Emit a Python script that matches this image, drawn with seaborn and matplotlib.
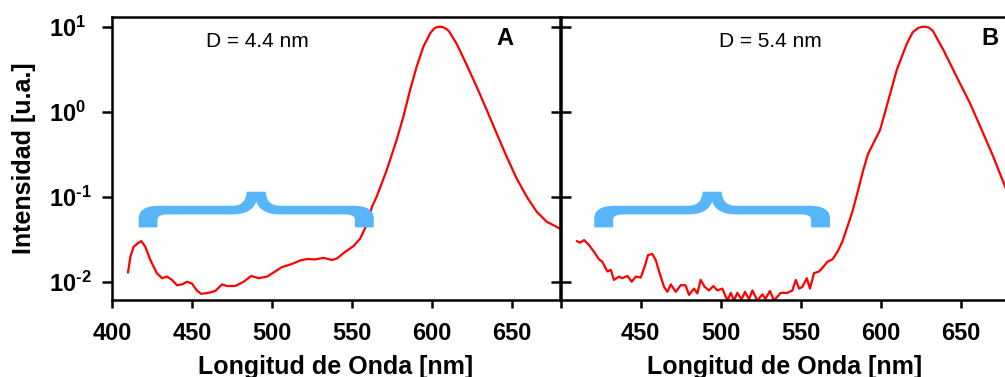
import numpy as np
import matplotlib
matplotlib.use("Agg")
import matplotlib.pyplot as plt
from matplotlib.ticker import NullLocator
import seaborn as sns
import pandas as pd

# spectrum A (D = 4.4 nm)
wl_a = [410, 411.5, 413.5, 416, 418.3, 420.8, 424, 428, 431.3, 434.4, 437.5,
        440.6, 443.8, 446.9, 450, 453, 455.8, 460.4, 464.6, 468.8, 471.9,
        477, 482.3, 487, 491.7, 496.9, 502, 506, 512.5, 517.7, 521.9, 527,
        532.3, 537.5, 540.6, 545.8, 551, 555.2, 559.2, 562.5, 565.4, 571.7,
        577.9, 582.1, 586.3, 590.4, 594.6, 598.75, 601, 603, 605, 607, 608.8,
        610.5, 615.4, 621.7, 627.9, 634.2, 640.4, 646.7, 652.9, 659.2, 665.4,
        671.7, 679.6, 682]
int_a = [0.0128, 0.0197, 0.0258, 0.0282, 0.0301, 0.0258, 0.0180, 0.0126,
         0.0110, 0.0115, 0.0105, 0.0091, 0.0093, 0.0100, 0.0095, 0.0079,
         0.0072, 0.0074, 0.0078, 0.0093, 0.0089, 0.0089, 0.0100, 0.0117,
         0.0110, 0.0115, 0.0132, 0.0148, 0.0162, 0.0178, 0.0185, 0.0183,
         0.0191, 0.0180, 0.0188, 0.0225, 0.0263, 0.0324, 0.0470, 0.0762,
         0.100, 0.206, 0.465, 0.873, 1.80, 3.39, 5.82, 8.32, 9.40, 9.90,
         10.0, 9.85, 9.45, 8.90, 6.31, 3.55, 1.97, 1.05, 0.556, 0.295, 0.164,
         0.100, 0.0667, 0.0508, 0.0425, 0.0400]

# spectrum B (D = 5.4 nm)
wl_b = [410, 412, 414.6, 417.7, 420.8, 424, 426, 429.2, 431.3, 433.3, 436.5,
        438.5, 441.7, 444.4, 446.9, 450, 452.5, 454.6, 457.3, 459.4, 461.5,
        464.6, 466.7, 468.8, 471.9, 475, 478, 480.2, 483.3, 485.4, 487.5,
        490, 492.7, 495.4, 497.9, 501, 504.2, 506.3, 508.3, 510.4, 513,
        515.2, 517.7, 519.8, 522.9, 526, 528, 530.8, 533.3, 537.5, 541.7,
        544.8, 546.9, 549, 551, 553.8, 555.8, 558.3, 561.5, 563.5, 566.7,
        569.8, 573, 576, 579.2, 582.3, 585.4, 589.1, 592, 595.4, 599.6,
        603.7, 610, 616.3, 620, 623.5, 626, 628, 630, 632.5, 639.1, 647.5,
        655.8, 664.1, 670.4, 677.7, 682]
int_b = [0.0301, 0.0288, 0.0309, 0.0270, 0.0225, 0.0183, 0.0172, 0.0132,
         0.0138, 0.0105, 0.0115, 0.0110, 0.0117, 0.0100, 0.0115, 0.0112,
         0.0151, 0.0206, 0.0212, 0.0180, 0.0132, 0.0087, 0.0076, 0.0093,
         0.0076, 0.0091, 0.0091, 0.0070, 0.0083, 0.0073, 0.0105, 0.0087,
         0.0079, 0.0089, 0.0079, 0.0083, 0.0060, 0.0074, 0.0060, 0.0074,
         0.0062, 0.0076, 0.0062, 0.0079, 0.0060, 0.0071, 0.0063, 0.0078,
         0.0060, 0.0074, 0.0074, 0.0079, 0.0105, 0.0083, 0.0087, 0.0110,
         0.0083, 0.0126, 0.0132, 0.0145, 0.0172, 0.0183, 0.0225, 0.0295,
         0.0444, 0.0667, 0.110, 0.206, 0.316, 0.425, 0.610, 1.15, 3.09,
         6.31, 8.60, 9.70, 9.98, 10.0, 9.80, 9.00, 5.37, 2.57, 1.26, 0.556,
         0.295, 0.132, 0.089]

size_labels = ["D = 4.4 nm", "D = 5.4 nm"]
panel_tags = ["A", "B"]
brace_x = [(416.7, 563.6), (421.0, 568.3)]
brace_y = (0.0436, 0.1145)

x_ticks = [400, 450, 500, 550, 600, 650]
y_ticks = [1e-2, 1e-1, 1e0, 1e1]
y_tick_labels = ["$10^{\u20102}$", "$10^{\u20101}$", "$10^{0}$", "$10^{1}$"]
xlim = (400, 680)
ylim = (10 ** -2.215, 10 ** 1.118)

RED = "#ff0000"
BRACE = "#56b6f7"

# brace outline in unit box (u across, v up); ('L', pt) or ('Q', ctrl, pt)
BRACE_SHAPE = [
    ("L", (0.0, 0.0)), ("L", (0.0, 0.25)),
    ("Q", (0.0, 0.607), (0.09, 0.607)), ("L", (0.40, 0.607)),
    ("Q", (0.455, 0.607), (0.46, 1.0)), ("L", (0.54, 1.0)),
    ("Q", (0.545, 0.607), (0.60, 0.607)), ("L", (0.91, 0.607)),
    ("Q", (1.0, 0.607), (1.0, 0.25)), ("L", (1.0, 0.0)),
    ("L", (0.92, 0.0)), ("L", (0.92, 0.22)),
    ("Q", (0.92, 0.365), (0.87, 0.365)), ("L", (0.60, 0.365)),
    ("Q", (0.52, 0.365), (0.5, 0.72)),
    ("Q", (0.48, 0.365), (0.40, 0.365)), ("L", (0.13, 0.365)),
    ("Q", (0.08, 0.365), (0.08, 0.22)), ("L", (0.08, 0.0)),
]


def brace_outline(x0, x1, y0, y1, n=14):
    pts = []
    for seg in BRACE_SHAPE:
        if seg[0] == "L":
            pts.append(seg[1])
        else:
            p0 = np.array(pts[-1])
            c = np.array(seg[1])
            p1 = np.array(seg[2])
            for t in np.linspace(0, 1, n)[1:]:
                pts.append(tuple((1 - t) ** 2 * p0 + 2 * (1 - t) * t * c + t ** 2 * p1))
    pts = np.array(pts)
    xs = x0 + pts[:, 0] * (x1 - x0)
    ly0, ly1 = np.log10(y0), np.log10(y1)
    ys = 10 ** (ly0 + pts[:, 1] * (ly1 - ly0))
    return xs, ys


def draw_panel(ax, wl, inten, label, tag, bx, first):
    df = pd.DataFrame({"wl": wl, "I": inten})
    sns.lineplot(data=df, x="wl", y="I", ax=ax, color=RED, lw=1.6,
                 estimator=None, sort=False)
    ax.set_yscale("log")
    ax.set_xlim(*xlim)
    ax.set_ylim(*ylim)
    xs, ys = brace_outline(bx[0], bx[1], brace_y[0], brace_y[1])
    ax.fill(xs, ys, color=BRACE, lw=0, zorder=3)

    ax.set_xticks(x_ticks)
    if first:
        ax.set_xticklabels([str(t) for t in x_ticks])
    else:
        ax.set_xticklabels([""] + [str(t) for t in x_ticks[1:]])
    ax.set_yticks(y_ticks)
    ax.yaxis.set_minor_locator(NullLocator())
    ax.xaxis.set_minor_locator(NullLocator())
    ax.tick_params(axis="x", direction="out", length=5.8, width=1.8,
                   labelsize=17, pad=10)
    if first:
        ax.set_yticklabels(y_tick_labels)
        ax.tick_params(axis="y", direction="out", length=7.2, width=1.8,
                       labelsize=17, pad=38)
        for t in ax.get_yticklabels():
            t.set_horizontalalignment("left")
        ax.set_ylabel("Intensidad [u.a.]", fontsize=18, fontweight="bold")
        ax.yaxis.set_label_coords(-0.196, 0.5)
        ax.yaxis.label.set_verticalalignment("center")
    else:
        ax.set_yticklabels([""] * len(y_ticks))
        ax.tick_params(axis="y", direction="inout", length=14.4, width=1.8)
        ax.set_ylabel("")
    ax.set_xlabel("Longitud de Onda [nm]", fontsize=18, fontweight="bold")
    ax.xaxis.set_label_coords(0.5, -0.236)
    ax.xaxis.label.set_verticalalignment("center")

    for s in ax.spines.values():
        s.set_linewidth(1.8)
        s.set_color("black")
        s.set_visible(True)

    ax.text(0.324 if first else 0.469, 0.914, label, transform=ax.transAxes,
            ha="center", va="center", fontsize=15, fontweight="normal")
    ax.text(0.877 if first else 0.958, 0.923, tag, transform=ax.transAxes,
            ha="center", va="center", fontsize=17, fontweight="bold")


def main():
    sns.set_theme(style="ticks")
    plt.rcParams["font.family"] = ["Liberation Sans", "DejaVu Sans"]
    plt.rcParams["font.weight"] = "bold"
    plt.rcParams["mathtext.fontset"] = "custom"
    plt.rcParams["mathtext.rm"] = "Liberation Sans:bold"
    plt.rcParams["mathtext.it"] = "Liberation Sans:bold"
    plt.rcParams["mathtext.bf"] = "Liberation Sans:bold"
    plt.rcParams["text.color"] = "black"
    plt.rcParams["axes.labelcolor"] = "black"
    plt.rcParams["xtick.color"] = "black"
    plt.rcParams["ytick.color"] = "black"
    plt.rcParams["xtick.labelcolor"] = "black"
    plt.rcParams["ytick.labelcolor"] = "black"

    fig = plt.figure(figsize=(10.05, 3.77), dpi=100)
    W, H = 1005.0, 377.0
    bottom = 1 - 300 / H
    height = 283.3 / H
    ax_a = fig.add_axes([112 / W, bottom, 448 / W, height])
    ax_b = fig.add_axes([560.7 / W, bottom, 448 / W, height])

    draw_panel(ax_a, wl_a, int_a, size_labels[0], panel_tags[0], brace_x[0], True)
    draw_panel(ax_b, wl_b, int_b, size_labels[1], panel_tags[1], brace_x[1], False)

    fig.savefig("out.png", dpi=100)
    plt.close(fig)


if __name__ == "__main__":
    main()
